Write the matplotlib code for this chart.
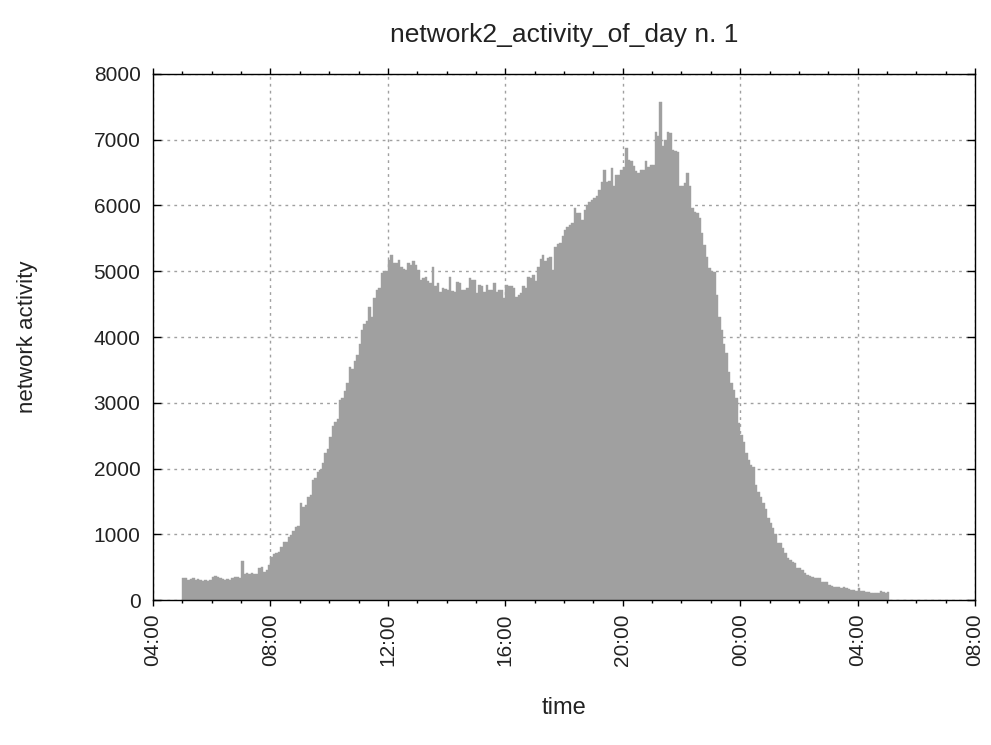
import numpy as np
import matplotlib.pyplot as plt
import matplotlib.dates as mdates

# actividad de red en intervalos de 5 minutos, desde las 05:00 del dia 1
inicio = np.datetime64("2013-01-01T05:00")
paso_min = 5

h05 = [330, 340, 310, 320, 330, 310, 320, 300, 290, 300, 290, 300]
h06 = [350, 360, 350, 340, 320, 310, 320, 310, 330, 350, 350, 340]
h07 = [600, 400, 410, 400, 410, 400, 400, 490, 500, 430, 450, 530]
h08 = [650, 700, 710, 730, 810, 880, 890, 960, 990, 1050, 1110, 1120]
h09 = [1470, 1420, 1440, 1570, 1600, 1830, 1850, 1940, 1980, 2080, 2230, 2300]
h10 = [2480, 2640, 2700, 2760, 3040, 3070, 3180, 3300, 3550, 3520, 3640, 3730]
h11 = [3900, 4100, 4200, 4240, 4460, 4310, 4600, 4720, 4750, 4970, 4990, 5000]
h12 = [5170, 5250, 5130, 5120, 5170, 5070, 5030, 5020, 5120, 5100, 5150, 5090]
h13 = [5020, 4870, 4890, 4920, 4850, 4820, 5070, 4780, 4820, 4690, 4740, 4730]
h14 = [4710, 4920, 4700, 4690, 4840, 4820, 4720, 4710, 4740, 4890, 4870, 4860]
h15 = [4670, 4790, 4780, 4690, 4790, 4720, 4710, 4820, 4690, 4710, 4720, 4590]
h16 = [4790, 4780, 4770, 4740, 4610, 4640, 4670, 4770, 4740, 4920, 4900, 4940]
h17 = [4850, 5070, 5180, 5250, 5150, 5200, 5210, 5020, 5370, 5420, 5430, 5530]
h18 = [5630, 5680, 5700, 5730, 5960, 5880, 5880, 5780, 5930, 6010, 6050, 6080]
h19 = [6110, 6150, 6240, 6360, 6540, 6360, 6370, 6570, 6290, 6460, 6470, 6540]
h20 = [6580, 6880, 6690, 6670, 6600, 6520, 6490, 6540, 6540, 6670, 6590, 6620]
h21 = [6620, 7120, 7050, 7580, 6900, 7000, 7120, 7100, 6850, 6830, 6820, 6290]
h22 = [6290, 6340, 6490, 6290, 5960, 5900, 5880, 5810, 5580, 5400, 5220, 5050]
h23 = [5000, 4990, 4640, 4310, 4100, 3900, 3750, 3470, 3300, 3200, 3070, 2690]
h00 = [2510, 2400, 2230, 2130, 2050, 2030, 1750, 1650, 1560, 1470, 1390, 1240]
h01 = [1170, 1100, 1010, 870, 860, 790, 710, 640, 610, 580, 560, 480]
h02 = [480, 456, 410, 380, 360, 354, 330, 330, 330, 280, 280, 270]
h03 = [230, 215, 202, 200, 193, 190, 193, 178, 162, 160, 152, 142]
h04 = [178, 142, 135, 127, 127, 112, 112, 112, 112, 142, 125, 112]
h05_sig = [127]

actividad = (h05 + h06 + h07 + h08 + h09 + h10 + h11 + h12 + h13 + h14 + h15 + h16
             + h17 + h18 + h19 + h20 + h21 + h22 + h23 + h00 + h01 + h02 + h03 + h04
             + h05_sig)

tiempos = inicio + np.arange(len(actividad)) * np.timedelta64(paso_min, "m")
x = mdates.date2num(tiempos)

plt.rcParams["font.family"] = ["Liberation Sans", "DejaVu Sans"]
plt.rcParams["text.color"] = "#222222"
plt.rcParams["axes.labelcolor"] = "#222222"

fig = plt.figure(figsize=(9.91, 7.45), dpi=100)
ax = fig.add_axes([0.1544, 0.1946, 0.8295, 0.7061])

ax.bar(x, actividad, width=paso_min / 1440, align="edge", color="#a0a0a0",
       edgecolor="#a0a0a0", linewidth=0.3, zorder=2)

ax.set_xlim(mdates.date2num(np.datetime64("2013-01-01T04:00")),
            mdates.date2num(np.datetime64("2013-01-02T08:00")))
ax.set_ylim(0, 8000)
ax.set_yticks(np.arange(0, 8001, 1000))

ax.xaxis.set_major_locator(mdates.HourLocator(byhour=[0, 4, 8, 12, 16, 20]))
ax.xaxis.set_minor_locator(mdates.HourLocator())
ax.xaxis.set_major_formatter(mdates.DateFormatter("%H:%M"))

ax.grid(True, which="major", color="#a0a0a0", linestyle=(0, (2, 3)), linewidth=1, zorder=1)
ax.set_axisbelow(True)

ax.tick_params(axis="x", which="major", direction="out", length=4.5, width=1,
               top=True, labelrotation=90, labelsize=15, pad=5, labelcolor="#222222")
ax.tick_params(axis="x", which="minor", direction="out", length=2.5, width=1, top=True)
ax.tick_params(axis="y", which="major", direction="in", length=5.8, width=1,
               right=True, labelsize=15, pad=9, labelcolor="#222222")

for s in ax.spines.values():
    s.set_linewidth(1)

ax.set_title("network2_activity_of_day n. 1", fontsize=19, pad=23)
ax.set_xlabel("time", fontsize=17, labelpad=22)
ax.set_ylabel("network activity", fontsize=16, labelpad=40)

fig.savefig("out.png", dpi=100)
